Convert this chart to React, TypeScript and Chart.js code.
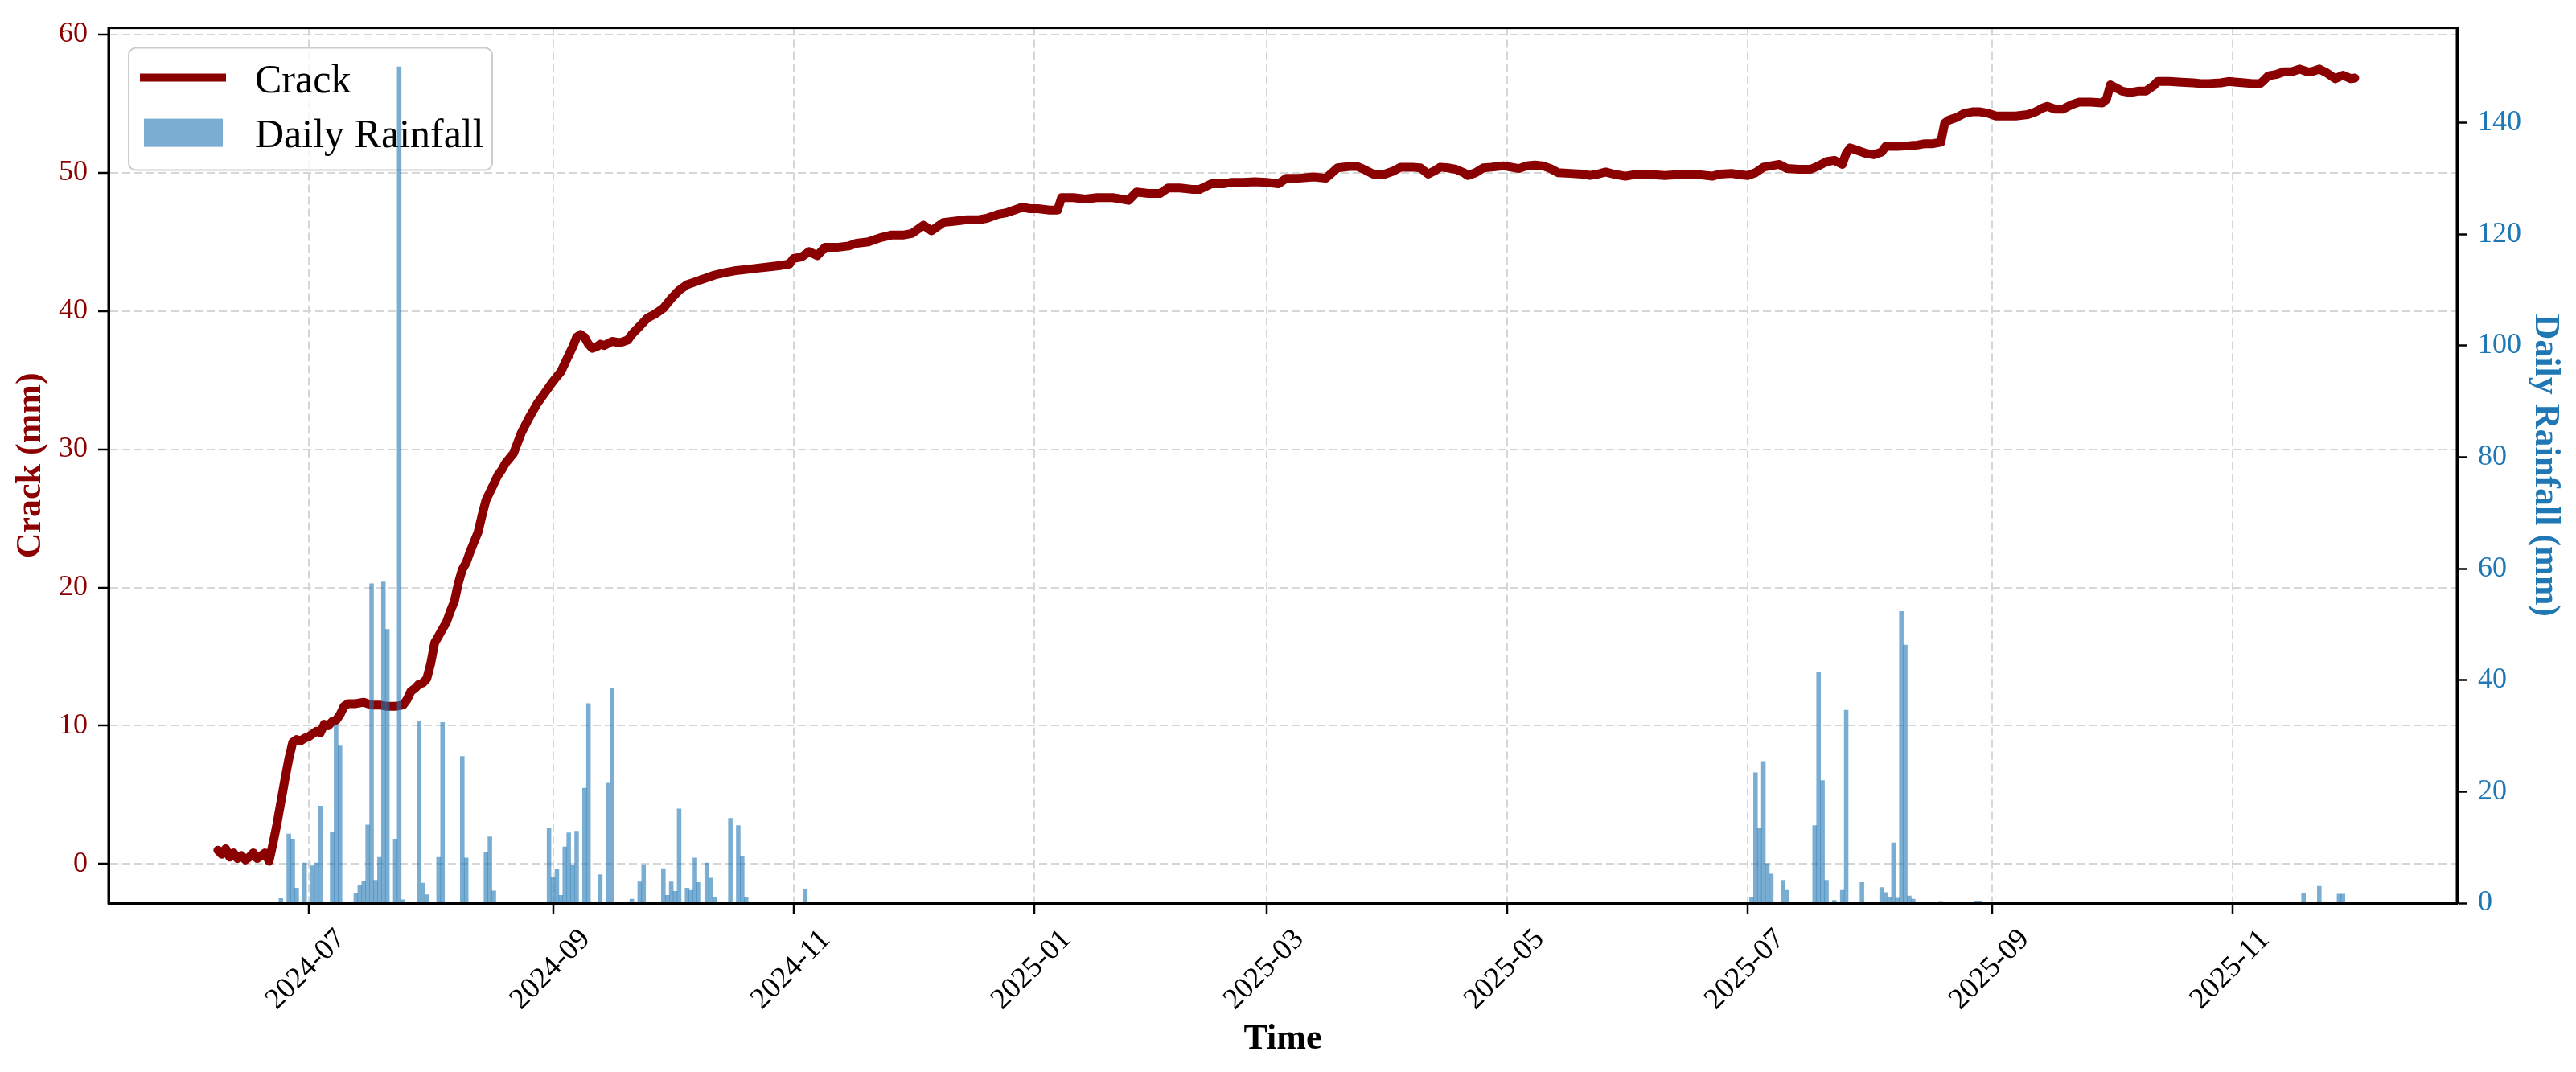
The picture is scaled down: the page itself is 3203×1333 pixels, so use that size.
import { useEffect, useRef } from "react"
import { Chart, registerables } from "chart.js"

Chart.register(...registerables)

const FONT = "'Liberation Serif', 'Times New Roman', Times, serif"
const DAY = 86400000

// crack width, one reading every few days, day count from crackStart
const crackStart = "2024-06-08"
const crackDay = [
  0, 1, 2, 3, 4, 5, 6, 7, 8, 9, 10, 11, 12, 13, 14, 15, 16, 17, 18, 19,
  20, 21, 22, 23, 24, 25, 26, 27, 28, 29, 30, 31, 32, 33, 35, 37, 39, 41, 43, 45,
  47, 48, 49, 50, 51, 52, 53, 54, 55, 56, 57, 58, 59, 60, 61, 62, 63, 64, 65, 66,
  67, 68, 69, 70, 71, 72, 73, 75, 77, 79, 81, 83, 85, 87, 89, 90, 91, 92, 93, 94,
  95, 96, 97, 98, 100, 102, 104, 105, 107, 109, 111, 113, 115, 117, 119, 121, 123, 126, 129, 131,
  134, 137, 140, 143, 145, 146, 148, 150, 152, 154, 157, 160, 162, 165, 168, 171, 174, 176, 179, 181,
  184, 187, 190, 193, 195, 198, 200, 202, 204, 206, 208, 211, 213, 214, 217, 220, 223, 227, 229, 231,
  233, 236, 239, 241, 244, 247, 249, 252, 255, 257, 260, 263, 266, 269, 271, 274, 278, 281, 283, 284,
  287, 289, 291, 293, 296, 298, 300, 303, 305, 307, 309, 310, 312, 314, 316, 317, 319, 321, 323, 326,
  328, 330, 332, 334, 336, 338, 340, 343, 346, 348, 350, 352, 354, 357, 359, 361, 364, 367, 370, 373,
  376, 379, 381, 384, 386, 388, 390, 392, 394, 396, 398, 401, 404, 406, 408, 410, 412, 413, 414, 416,
  418, 420, 422, 423, 426, 429, 431, 433, 435, 437, 438, 439, 441, 443, 445, 447, 449, 451, 453, 456,
  459, 461, 463, 464, 466, 468, 470, 472, 475, 478, 479, 480, 481, 483, 485, 487, 489, 491, 492, 495,
  498, 501, 503, 505, 508, 510, 512, 514, 516, 518, 519, 520, 522, 524, 526, 528, 530, 531, 533, 535,
  537, 539, 541, 542,
]
const crackMm = [
  1.0, 0.7, 1.1, 0.5, 0.8, 0.4, 0.6, 0.3, 0.5, 0.8, 0.4, 0.6, 0.8, 0.2, 1.5, 2.9, 4.5, 6.1, 7.6, 8.8,
  9.0, 8.9, 9.1, 9.2, 9.4, 9.6, 9.5, 10.1, 10.0, 10.3, 10.4, 10.8, 11.4, 11.6, 11.6, 11.7, 11.5, 11.5, 11.4, 11.4,
  11.5, 11.9, 12.5, 12.7, 13.0, 13.1, 13.4, 14.5, 16.0, 16.5, 17.0, 17.5, 18.3, 19.0, 20.3, 21.3, 21.8, 22.6, 23.3, 24.0,
  25.2, 26.3, 26.9, 27.5, 28.1, 28.5, 29.0, 29.7, 31.2, 32.3, 33.3, 34.1, 34.9, 35.6, 36.8, 37.4, 38.1, 38.3, 38.1, 37.6,
  37.3, 37.4, 37.6, 37.5, 37.8, 37.7, 37.9, 38.3, 38.9, 39.5, 39.8, 40.2, 40.9, 41.5, 41.9, 42.1, 42.3, 42.6, 42.8, 42.9,
  43.0, 43.1, 43.2, 43.3, 43.4, 43.8, 43.9, 44.3, 44.0, 44.6, 44.6, 44.7, 44.9, 45.0, 45.3, 45.5, 45.5, 45.6, 46.2, 45.8,
  46.4, 46.5, 46.6, 46.6, 46.7, 47.0, 47.1, 47.3, 47.5, 47.4, 47.4, 47.3, 47.3, 48.2, 48.2, 48.1, 48.2, 48.2, 48.1, 48.0,
  48.6, 48.5, 48.5, 48.9, 48.9, 48.8, 48.8, 49.2, 49.2, 49.3, 49.3, 49.35, 49.3, 49.2, 49.6, 49.6, 49.7, 49.6, 50.1, 50.35,
  50.45, 50.45, 50.2, 49.9, 49.9, 50.1, 50.4, 50.4, 50.35, 49.9, 50.2, 50.4, 50.35, 50.25, 50.0, 49.8, 50.0, 50.35, 50.4, 50.5,
  50.4, 50.3, 50.5, 50.55, 50.5, 50.3, 50.0, 49.95, 49.9, 49.8, 49.9, 50.05, 49.9, 49.75, 49.85, 49.9, 49.85, 49.8, 49.85, 49.9,
  49.85, 49.75, 49.9, 49.95, 49.85, 49.8, 50.0, 50.4, 50.5, 50.6, 50.3, 50.25, 50.25, 50.5, 50.8, 50.9, 50.6, 51.4, 51.8, 51.6,
  51.4, 51.3, 51.5, 51.9, 51.9, 51.95, 52.0, 52.1, 52.1, 52.2, 53.6, 53.8, 54.0, 54.3, 54.4, 54.4, 54.3, 54.1, 54.1, 54.1,
  54.2, 54.4, 54.7, 54.8, 54.6, 54.6, 54.9, 55.1, 55.1, 55.05, 55.3, 56.35, 56.2, 55.9, 55.8, 55.9, 55.9, 56.3, 56.6, 56.6,
  56.55, 56.5, 56.45, 56.45, 56.5, 56.6, 56.55, 56.5, 56.45, 56.45, 56.7, 57.0, 57.1, 57.3, 57.3, 57.5, 57.3, 57.3, 57.5, 57.2,
  56.8, 57.05, 56.8, 56.85,
]

// daily rainfall, rainy days only
const rainDate = [
  "2024-06-24", "2024-06-26", "2024-06-27", "2024-06-28", "2024-06-30", "2024-07-02", "2024-07-03", "2024-07-04",
  "2024-07-07", "2024-07-08", "2024-07-09", "2024-07-13", "2024-07-14", "2024-07-15", "2024-07-16", "2024-07-17",
  "2024-07-18", "2024-07-19", "2024-07-20", "2024-07-21", "2024-07-23", "2024-07-24", "2024-07-25", "2024-07-29",
  "2024-07-30", "2024-07-31", "2024-08-03", "2024-08-04", "2024-08-09", "2024-08-10", "2024-08-15", "2024-08-16",
  "2024-08-17", "2024-08-31", "2024-09-01", "2024-09-02", "2024-09-03", "2024-09-04", "2024-09-05", "2024-09-06",
  "2024-09-07", "2024-09-09", "2024-09-10", "2024-09-13", "2024-09-15", "2024-09-16", "2024-09-21", "2024-09-23",
  "2024-09-24", "2024-09-29", "2024-09-30", "2024-10-01", "2024-10-02", "2024-10-03", "2024-10-05", "2024-10-06",
  "2024-10-07", "2024-10-08", "2024-10-10", "2024-10-11", "2024-10-12", "2024-10-16", "2024-10-18", "2024-10-19",
  "2024-10-20", "2024-11-04",
  "2025-07-02", "2025-07-03", "2025-07-04", "2025-07-05", "2025-07-06", "2025-07-07", "2025-07-10", "2025-07-11",
  "2025-07-18", "2025-07-19", "2025-07-20", "2025-07-21", "2025-07-23", "2025-07-25", "2025-07-26", "2025-07-30",
  "2025-08-04", "2025-08-05", "2025-08-06", "2025-08-07", "2025-08-08", "2025-08-09", "2025-08-10", "2025-08-11",
  "2025-08-12", "2025-08-19", "2025-08-28", "2025-08-29", "2025-11-19", "2025-11-23", "2025-11-28", "2025-11-29",
]
const rainMm = [
  0.8, 12.4, 11.5, 2.7, 7.2, 6.7, 7.2, 17.4,
  12.8, 32.0, 28.2, 1.7, 3.2, 4.0, 14.0, 57.3,
  4.1, 8.2, 57.6, 49.1, 11.5, 150, 0.6, 32.6,
  3.6, 1.5, 8.2, 32.4, 26.3, 8.1, 9.2, 11.9,
  2.2, 13.4, 4.7, 6.1, 1.4, 10.1, 12.6, 6.8,
  12.9, 20.6, 35.8, 5.1, 21.5, 38.6, 0.7, 3.8,
  6.9, 6.2, 1.4, 3.8, 2.1, 16.9, 2.7, 2.3,
  8.1, 3.7, 7.2, 4.5, 1.1, 15.2, 13.9, 8.4,
  1.1, 2.5,
  1.1, 23.4, 13.5, 25.4, 7.1, 5.2, 4.1, 2.3,
  13.9, 41.4, 22.0, 4.1, 0.5, 2.3, 34.6, 3.7,
  2.8, 1.9, 1.0, 10.8, 0.9, 52.3, 46.3, 1.3,
  0.7, 0.3, 0.4, 0.4, 1.8, 3.0, 1.6, 1.6,
]

const crackTicks = [0, 10, 20, 30, 40, 50, 60]
const rainTicks = [0, 20, 40, 60, 80, 100, 120, 140]
const monthTicks = ["2024-07", "2024-09", "2024-11", "2025-01", "2025-03", "2025-05", "2025-07", "2025-09", "2025-11"]

const utc = (s: string) => Date.parse(s + "T00:00:00Z")

const formatMonth = (v: number) => {
  const d = new Date(v)
  return `${d.getUTCFullYear()}-${String(d.getUTCMonth() + 1).padStart(2, "0")}`
}

// legend box, top frame line and the slanted date labels
const decorations = {
  id: "decorations",
  beforeDatasetsDraw(chart: any) {
    const { ctx, chartArea } = chart
    const [crack, rain] = chart.data.datasets
    const left = chartArea.left + 25
    const top = chartArea.top + 25
    ctx.save()
    ctx.beginPath()
    ctx.roundRect(left, top, 452, 152, 9)
    ctx.fillStyle = "rgba(255,255,255,0.8)"
    ctx.fill()
    ctx.strokeStyle = "#cccccc"
    ctx.lineWidth = 2
    ctx.stroke()

    ctx.beginPath()
    ctx.strokeStyle = crack.borderColor
    ctx.lineWidth = 10
    ctx.moveTo(left + 14, top + 37)
    ctx.lineTo(left + 121, top + 37)
    ctx.stroke()

    ctx.fillStyle = rain.backgroundColor
    ctx.fillRect(left + 19, top + 88, 98, 35)

    ctx.fillStyle = "#000"
    ctx.font = `50px ${FONT}`
    ctx.textBaseline = "alphabetic"
    ctx.textAlign = "left"
    ctx.fillText(crack.label, left + 157, top + 55)
    ctx.fillText(rain.label, left + 157, top + 123)
    ctx.restore()
  },
  afterDatasetsDraw(chart: any) {
    const { ctx, chartArea } = chart
    ctx.save()
    ctx.strokeStyle = "#000"
    ctx.lineWidth = 3
    ctx.strokeRect(chartArea.left, chartArea.top, chartArea.right - chartArea.left, chartArea.bottom - chartArea.top)
    ctx.restore()
  },
  afterDraw(chart: any) {
    const { ctx } = chart
    const x = chart.scales.x
    ctx.save()
    ctx.font = `37px ${FONT}`
    ctx.fillStyle = "#000"
    ctx.textAlign = "center"
    ctx.textBaseline = "middle"
    x.ticks.forEach((t: any) => {
      const px = x.getPixelForValue(t.value)
      ctx.save()
      ctx.translate(px - 3, x.top + 83)
      ctx.rotate(-Math.PI / 4)
      ctx.fillText(formatMonth(t.value), 0, 0)
      ctx.restore()
    })
    ctx.restore()
  },
}

export default function App() {
  const canvasRef = useRef<HTMLCanvasElement>(null)
  const chartRef = useRef<Chart | null>(null)

  useEffect(() => {
    if (!canvasRef.current) return
    if (chartRef.current) chartRef.current.destroy()

    Chart.defaults.font.family = FONT
    const start = utc(crackStart)

    const tickMarks = { tickColor: "#000", tickWidth: 2.5, tickLength: 13, tickBorderDash: [] }

    chartRef.current = new Chart(canvasRef.current, {
      type: "line",
      data: {
        datasets: [
          {
            type: "line",
            label: "Crack",
            data: crackDay.map((d, i) => ({ x: start + d * DAY, y: crackMm[i] })),
            borderColor: "#8B0000",
            borderWidth: 11,
            pointRadius: 0,
            tension: 0,
            borderJoinStyle: "round",
            borderCapStyle: "round",
            yAxisID: "y",
            order: 1,
          },
          {
            type: "bar",
            label: "Daily Rainfall",
            data: rainDate.map((d, i) => ({ x: utc(d), y: rainMm[i] })),
            backgroundColor: "rgba(31,119,180,0.6)",
            borderWidth: 0,
            barPercentage: 1,
            categoryPercentage: 1,
            yAxisID: "y1",
            order: 0,
          },
        ] as any,
      },
      options: {
        animation: false,
        responsive: false,
        events: [],
        layout: { padding: { top: 25, left: 0, right: 0, bottom: 0 } },
        plugins: { legend: { display: false }, tooltip: { enabled: false } },
        scales: {
          x: {
            type: "linear",
            offset: false,
            min: Date.parse("2024-05-11T07:00:00Z"),
            max: Date.parse("2025-12-27T22:00:00Z"),
            afterBuildTicks: (s: any) => {
              s.ticks = monthTicks.map((m) => ({ value: utc(m + "-01") }))
            },
            afterFit: (s: any) => {
              s.height = 210
            },
            ticks: { display: false },
            grid: { offset: false, color: "#d6d6d6", lineWidth: 2, ...tickMarks },
            border: { display: true, color: "#000", width: 3, dash: [10, 5] },
            title: {
              display: true,
              text: "Time",
              color: "#000",
              font: { size: 44, weight: "bold", family: FONT },
              padding: { top: 0, bottom: 14 },
            },
          },
          y: {
            type: "linear",
            position: "left",
            min: -2.83,
            max: 60.48,
            afterBuildTicks: (s: any) => {
              s.ticks = crackTicks.map((v) => ({ value: v }))
            },
            afterFit: (s: any) => {
              s.width = 135
            },
            ticks: { color: "#8B0000", font: { size: 36, family: FONT }, padding: 13 },
            grid: { color: "#d6d6d6", lineWidth: 2, ...tickMarks },
            border: { display: true, color: "#000", width: 3, dash: [10, 5] },
            title: {
              display: true,
              text: "Crack (mm)",
              color: "#8B0000",
              font: { size: 44, weight: "bold", family: FONT },
              padding: { top: 12, bottom: 0 },
            },
          },
          y1: {
            type: "linear",
            position: "right",
            min: 0,
            max: 157,
            afterBuildTicks: (s: any) => {
              s.ticks = rainTicks.map((v) => ({ value: v }))
            },
            afterFit: (s: any) => {
              s.width = 148
            },
            ticks: { color: "#1f77b4", font: { size: 36, family: FONT }, padding: 13 },
            grid: { drawOnChartArea: false, ...tickMarks },
            border: { display: true, color: "#000", width: 3 },
            title: {
              display: true,
              text: "Daily Rainfall (mm)",
              color: "#1f77b4",
              font: { size: 44, weight: "bold", family: FONT },
              padding: { top: 12, bottom: 0 },
            },
          },
        },
      } as any,
      plugins: [decorations],
    })

    return () => {
      if (chartRef.current) {
        chartRef.current.destroy()
        chartRef.current = null
      }
    }
  }, [])

  return (
    <div style={{ position: "absolute", left: 0, top: 0, width: 3203, height: 1333, background: "#fff" }}>
      <canvas ref={canvasRef} width={3203} height={1333} style={{ display: "block", width: 3203, height: 1333 }} />
    </div>
  )
}
